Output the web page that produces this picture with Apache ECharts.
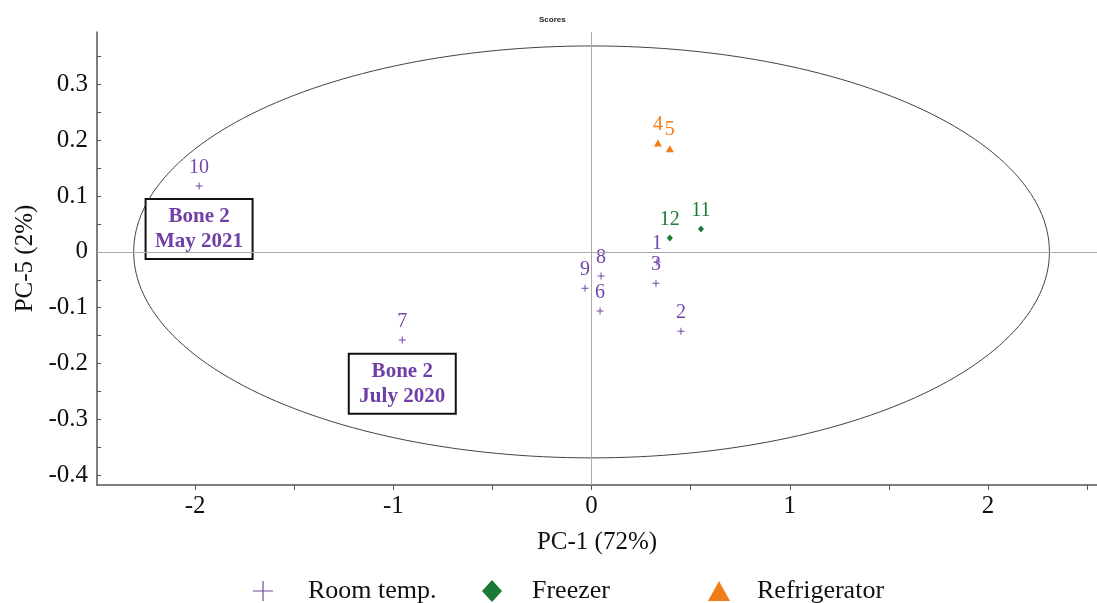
<!DOCTYPE html>
<html>
<head>
<meta charset="utf-8">
<title>Scores</title>
<script src="https://cdn.jsdelivr.net/npm/echarts@6/dist/echarts.min.js"></script>
<style>
  html, body { margin: 0; padding: 0; background: #fff; }
  #chart { width: 1097px; height: 603px; }
</style>
</head>
<body>
<div id="chart"></div>
<script>
// PCA scores: PC-1 vs PC-5, grouped by storage condition
const roomTempIds = ['1', '2', '3', '6', '7', '8', '9', '10'];
const roomTempPC1 = [0.33, 0.451, 0.325, 0.043, -0.955, 0.048, -0.033, -1.98];
const roomTempPC5 = [-0.018, -0.142, -0.056, -0.106, -0.158, -0.043, -0.065, 0.118];

const freezerIds = ['11', '12'];
const freezerPC1 = [0.552, 0.395];
const freezerPC5 = [0.041, 0.025];

const refrigIds = ['4', '5'];
const refrigPC1 = [0.335, 0.395];
const refrigPC5 = [0.195, 0.185];

// Hotelling T2 ellipse (centre and semi-axes in score units)
const ellipseCentre = [0, 0];
const ellipseRadii = [2.31, 0.369];

// Annotation boxes
const noteText = ['Bone 2\nMay 2021', 'Bone 2\nJuly 2020'];
const notePC1 = [-1.98, -0.955];
const notePC5 = [0.041, -0.236];

// Axis ticks and labels
const xTickValues = [-2, -1.5, -1, -0.5, 0, 0.5, 1, 1.5, 2, 2.5];
const xLabelValues = [-2, -1, 0, 1, 2];
const yTickValues = [-0.4, -0.35, -0.3, -0.25, -0.2, -0.15, -0.1, -0.05, 0, 0.05, 0.1, 0.15, 0.2, 0.25, 0.3, 0.35];
const yLabelValues = [-0.4, -0.3, -0.2, -0.1, 0, 0.1, 0.2, 0.3];

const PURPLE = '#7445aa';
const GREEN = '#1a7a36';
const ORANGE = '#f07d1a';
const SERIF = '"Liberation Serif", "DejaVu Serif", serif';

const plusSymbol = 'path://M3,0H4V3H7V4H4V7H3V4H0V3H3Z';
const plusIcon = 'path://M9.4,0H10.6V9.4H20V10.6H10.6V20H9.4V10.6H0V9.4H9.4Z';

function toPoints(ids, xs, ys) {
  return ids.map((id, i) => ({ name: id, value: [xs[i], ys[i]] }));
}

function pointLabel(color) {
  return {
    show: true,
    position: 'top',
    distance: 5,
    formatter: '{b}',
    color: color,
    opacity: 1,
    fontFamily: SERIF,
    fontSize: 20
  };
}

const chart = echarts.init(document.getElementById('chart'), null, { renderer: 'canvas' });

const legendBase = {
  orient: 'horizontal',
  top: 573,
  itemWidth: 20,
  itemHeight: 20,
  selectedMode: false,
  textStyle: { fontFamily: SERIF, fontSize: 26, color: '#111' }
};

chart.setOption({
  animation: false,
  backgroundColor: '#fff',
  title: {
    text: 'Scores',
    left: 534,
    top: 11,
    textStyle: { fontFamily: '"Liberation Sans", Arial, sans-serif', fontSize: 8, fontWeight: 'bold', color: '#222' }
  },
  legend: [
    Object.assign({}, legendBase, {
      left: 248,
      data: [{ name: 'Room temp.', icon: plusIcon }],
      textStyle: Object.assign({}, legendBase.textStyle, { padding: [0, 0, 0, 30] })
    }),
    Object.assign({}, legendBase, {
      left: 477,
      itemWidth: 20,
      itemHeight: 22,
      data: [{ name: 'Freezer', icon: 'diamond' }],
      textStyle: Object.assign({}, legendBase.textStyle, { padding: [0, 0, 0, 25] })
    }),
    Object.assign({}, legendBase, {
      left: 703,
      itemWidth: 22,
      itemHeight: 20,
      data: [{ name: 'Refrigerator', icon: 'triangle' }],
      textStyle: Object.assign({}, legendBase.textStyle, { padding: [0, 0, 0, 22] })
    })
  ],
  grid: { left: 97, right: 0, top: 32, bottom: 118, containLabel: false },
  xAxis: {
    type: 'value',
    min: -2.495,
    max: 2.55,
    name: 'PC-1 (72%)',
    nameLocation: 'middle',
    nameGap: 45,
    nameTextStyle: { fontFamily: SERIF, fontSize: 25, color: '#111' },
    axisLine: { show: true, onZero: false, lineStyle: { color: '#555', width: 1.5 } },
    axisTick: { show: true, inside: false, length: 5, customValues: xTickValues, lineStyle: { color: '#555' } },
    axisLabel: {
      customValues: xLabelValues,
      margin: 9,
      fontFamily: SERIF,
      fontSize: 25,
      color: '#111'
    },
    splitLine: { show: false }
  },
  yAxis: {
    type: 'value',
    min: -0.4176,
    max: 0.394,
    name: 'PC-5 (2%)',
    nameLocation: 'middle',
    nameGap: 59,
    nameTextStyle: { fontFamily: SERIF, fontSize: 25, color: '#111' },
    axisLine: { show: true, onZero: false, lineStyle: { color: '#555', width: 1.5 } },
    axisTick: { show: true, inside: true, length: 4, customValues: yTickValues, lineStyle: { color: '#555' } },
    axisLabel: {
      customValues: yLabelValues,
      margin: 9,
      fontFamily: SERIF,
      fontSize: 25,
      color: '#111',
      formatter: v => (Math.abs(v) < 1e-9 ? '0' : String(Math.round(v * 10) / 10))
    },
    splitLine: { show: false }
  },
  series: [
    {
      name: 'Ellipse',
      type: 'custom',
      silent: true,
      z: 1,
      data: [[ellipseCentre[0], ellipseCentre[1], ellipseRadii[0], ellipseRadii[1]]],
      renderItem: function (params, api) {
        const cx = api.value(0), cy = api.value(1);
        const rx = api.value(2), ry = api.value(3);
        const pts = [];
        const n = 240;
        for (let i = 0; i <= n; i++) {
          const t = (i / n) * Math.PI * 2;
          pts.push(api.coord([cx + rx * Math.cos(t), cy + ry * Math.sin(t)]));
        }
        return {
          type: 'polyline',
          shape: { points: pts },
          style: { stroke: '#444', lineWidth: 1, fill: null }
        };
      },
      markLine: {
        silent: true,
        symbol: 'none',
        label: { show: false },
        lineStyle: { color: '#aaa', width: 1, type: 'solid' },
        data: [{ xAxis: 0 }, { yAxis: 0 }]
      }
    },
    {
      name: 'Notes',
      type: 'custom',
      silent: true,
      z: 3,
      data: notePC1.map((x, i) => [x, notePC5[i]]),
      renderItem: function (params, api) {
        const p = api.coord([api.value(0), api.value(1)]);
        const w = 107, h = 60;
        return {
          type: 'group',
          children: [
            {
              type: 'rect',
              shape: { x: p[0] - w / 2, y: p[1] - h / 2, width: w, height: h },
              style: { fill: '#fff', stroke: '#111', lineWidth: 2 }
            },
            {
              type: 'text',
              x: p[0],
              y: p[1],
              style: {
                text: noteText[params.dataIndex],
                fill: '#6f3fa6',
                font: 'bold 21px ' + SERIF,
                align: 'center',
                verticalAlign: 'middle',
                lineHeight: 25
              }
            }
          ]
        };
      }
    },
    {
      name: 'Room temp.',
      type: 'scatter',
      z: 4,
      symbol: plusSymbol,
      symbolSize: 7,
      itemStyle: { color: PURPLE, opacity: 1 },
      label: pointLabel(PURPLE),
      data: toPoints(roomTempIds, roomTempPC1, roomTempPC5)
    },
    {
      name: 'Freezer',
      type: 'scatter',
      z: 4,
      symbol: 'diamond',
      symbolSize: [6, 7],
      itemStyle: { color: GREEN, opacity: 1 },
      label: pointLabel(GREEN),
      data: toPoints(freezerIds, freezerPC1, freezerPC5)
    },
    {
      name: 'Refrigerator',
      type: 'scatter',
      z: 4,
      symbol: 'triangle',
      symbolSize: [8, 7],
      itemStyle: { color: ORANGE, opacity: 1 },
      label: pointLabel(ORANGE),
      data: toPoints(refrigIds, refrigPC1, refrigPC5)
    }
  ]
});
</script>
</body>
</html>
